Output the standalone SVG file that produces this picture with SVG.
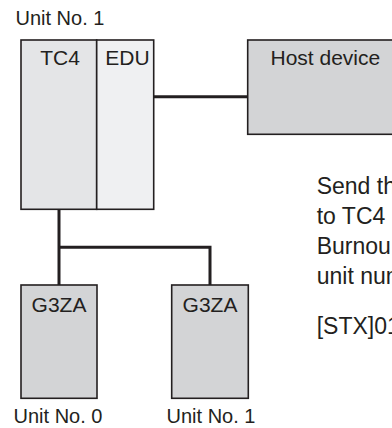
<svg xmlns="http://www.w3.org/2000/svg" width="392" height="428" viewBox="0 0 392 428">
<style>
text{font-family:"Liberation Sans",Arial,sans-serif;fill:#231f20}
.lbl{font-size:21px}
.unit{font-size:20px}
.note{font-size:23px}
.box{stroke:#231f20;stroke-width:1.6}
.wire{stroke:#231f20;stroke-width:3;fill:none}
</style>
<rect width="392" height="428" fill="#ffffff"/>
<text class="unit" x="15.5" y="25">Unit No. 1</text>
<g id="connectors">
<line class="wire" x1="153.7" y1="96.7" x2="247.7" y2="96.7"/>
<line class="wire" x1="59" y1="209.5" x2="59" y2="285"/>
<polyline class="wire" points="59,247.3 210,247.3 210,285"/>
</g>
<g id="tc4">
<rect class="box" x="21" y="40" width="75.7" height="169.3" fill="#e4e5e7"/>
<text class="lbl" x="60" y="65" text-anchor="middle">TC4</text>
</g>
<g id="edu">
<rect class="box" x="96.7" y="40" width="57" height="169.3" fill="#eff0f2"/>
<text class="lbl" x="127.5" y="65" text-anchor="middle">EDU</text>
</g>
<g id="host">
<rect class="box" x="247.7" y="40" width="160" height="94.3" fill="#d3d4d6"/>
<text class="lbl" x="270.5" y="65">Host device</text>
</g>
<g id="g3za0">
<rect class="box" x="21" y="285" width="76" height="113.3" fill="#d3d4d6"/>
<text class="lbl" x="59" y="311.5" text-anchor="middle">G3ZA</text>
<text class="unit" x="58" y="422.5" text-anchor="middle">Unit No. 0</text>
</g>
<g id="g3za1">
<rect class="box" x="171.7" y="285" width="76.6" height="113.3" fill="#d3d4d6"/>
<text class="lbl" x="210" y="311.5" text-anchor="middle">G3ZA</text>
<text class="unit" x="211" y="422.5" text-anchor="middle">Unit No. 1</text>
</g>
<g id="note">
<text class="note" x="316.7" y="194">Send th</text>
<text class="note" x="316.7" y="224">to TC4</text>
<text class="note" x="316.7" y="254">Burnou</text>
<text class="note" x="316.7" y="284">unit num</text>
<text class="note" x="316.7" y="334">[STX]01</text>
</g>
</svg>
